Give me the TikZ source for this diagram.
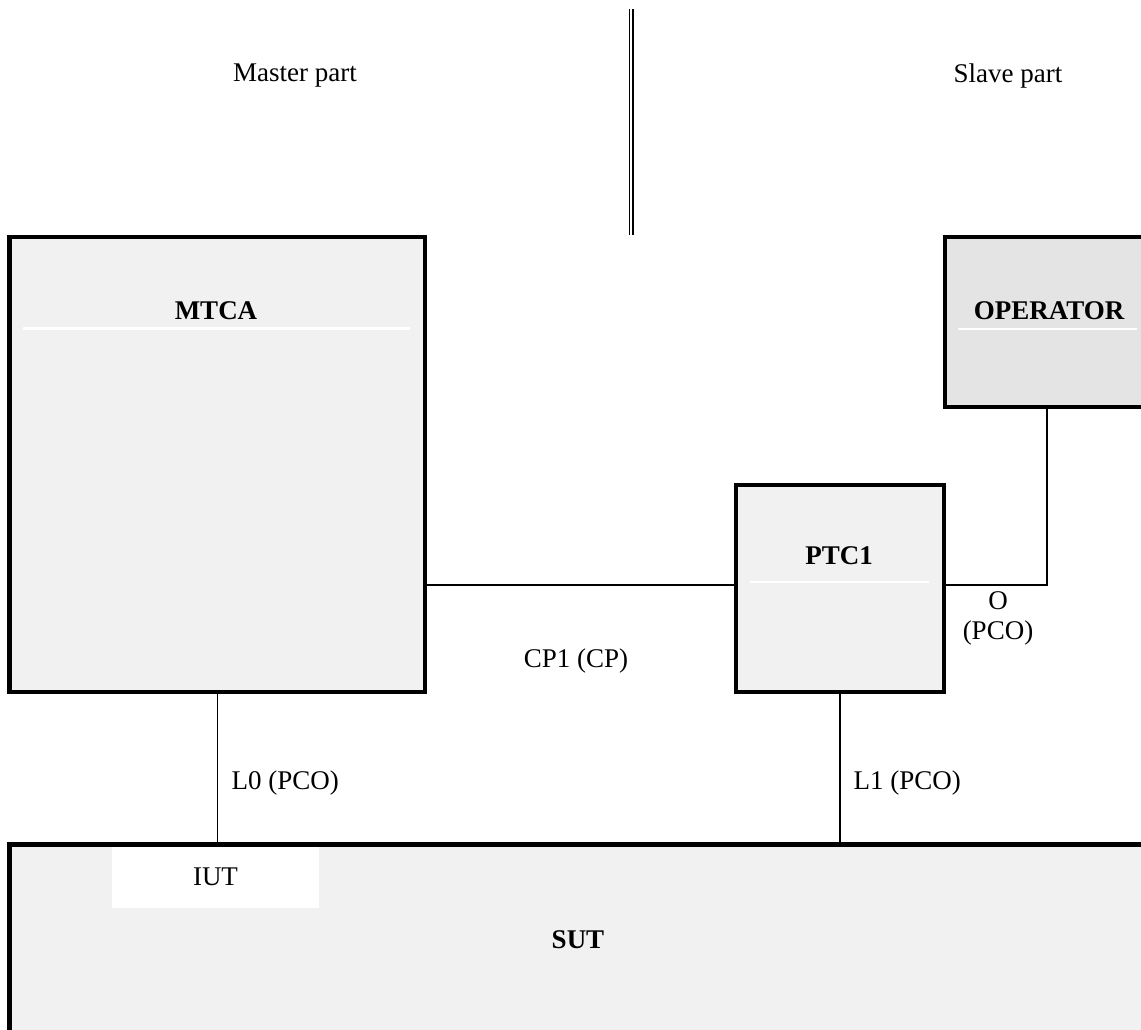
\documentclass[tikz,border=0pt]{standalone}
\usepackage{fontspec}
\setmainfont{Liberation Serif}
\usetikzlibrary{positioning}
\definecolor{boxgray}{RGB}{241,241,241}
\definecolor{opgray}{RGB}{228,228,228}

\begin{document}
\begin{tikzpicture}[x=1pt, y=-1pt,
    every node/.style={font=\fontsize{27}{30}\selectfont},
    unit/.style={draw, line width=4.3pt, fill=boxgray, inner sep=0pt},
    title/.style={font=\fontsize{27}{30}\selectfont\bfseries},
    link/.style={line width=1.3pt},
    rule/.style={white, line width=2.7pt}
  ]
  \useasboundingbox (0,0) rectangle (1141,1029);
  % divider between the two parts
  \coordinate (divtop) at (631.3,9);
  \coordinate (divbot) at (631.3,235);
  \draw[line width=1.7pt, double distance=2pt] (divtop) -- (divbot);
  \node (master) at (295,76) {Master part};
  \node (slave)  at (1008,76) {Slave part};

  % boxes
  \node[unit, minimum width=1190.5pt, minimum height=255.5pt] (sut) at (604.75,972.25) {};
  \node[fill=white, inner sep=0pt, minimum width=207pt, minimum height=61.5pt] (iut) at (215.5,877.25) {IUT};
  \node[unit, minimum width=415.5pt, minimum height=455pt] (mtca) at (217.25,464.5) {};
  \node[unit, minimum width=208pt, minimum height=207pt] (ptc) at (840,588.5) {};
  \node[unit, fill=opgray, minimum width=255pt, minimum height=170pt] (operator) at (1072.5,322) {};

  % connectors
  \coordinate (cp) at (0,585);
  \coordinate (ohook) at (1047,407);
  \draw[link] (mtca.east |- cp) -- (ptc.west |- cp);
  \draw[link] (ptc.east |- cp) -| (ohook);
  \draw[link] (mtca.south) -- (mtca.south |- sut.north);
  \draw[link] (ptc.south) -- (ptc.south |- sut.north);

  % titles with their white rules
  \node[title] (mtcatitle) at (216,311) {MTCA};
  \draw[rule] (23,328.5) -- (410,328.5);
  \node[title] (optitle) at (1049,311) {OPERATOR};
  \draw[rule] (958,329) -- (1137,329);
  \node[title] (ptctitle) at (839,556) {PTC1};
  \draw[rule] (750,582) -- (929,582);
  \node[title] (suttitle) at (578,940) {SUT};

  % port labels
  \node (cplabel) at (576,661) {CP1 (CP)};
  \node[align=center] (olabel) at (998,618) {O\\(PCO)};
  \node[anchor=west] (lzero) at (228,783) {L0 (PCO)};
  \node[anchor=west] (lone) at (850,783) {L1 (PCO)};
\end{tikzpicture}
\end{document}
